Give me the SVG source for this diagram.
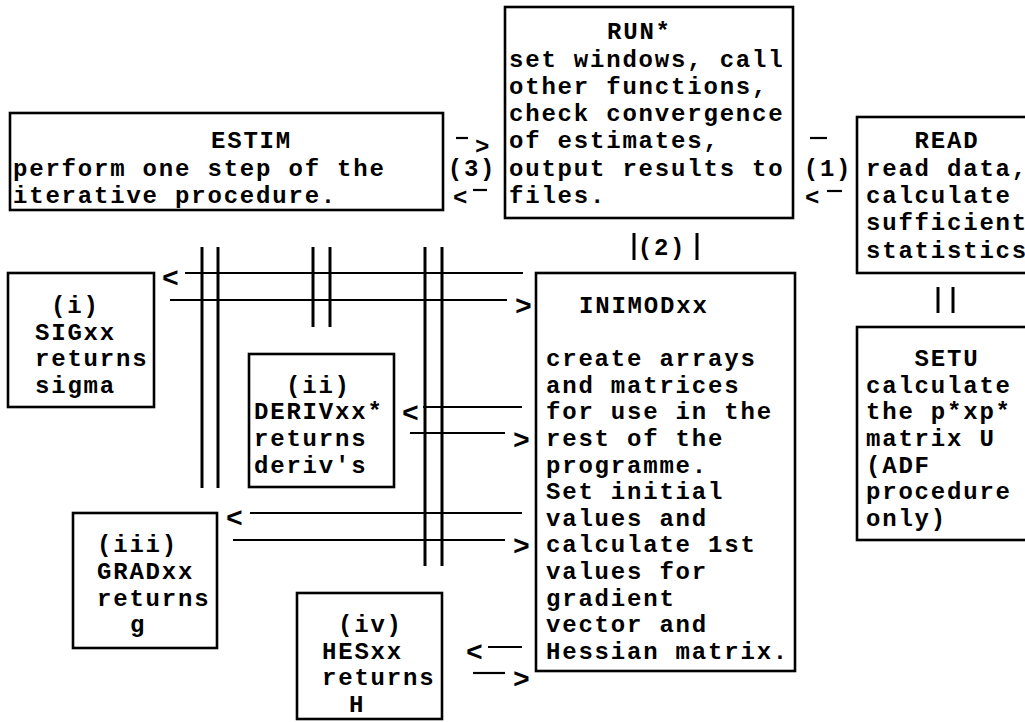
<svg xmlns="http://www.w3.org/2000/svg" width="1025" height="722" viewBox="0 0 1025 722">
<style>
.box{fill:none;stroke:#000;stroke-width:2.6}
.t{font-family:'Liberation Mono','Courier New',monospace;font-weight:bold;font-size:24px;letter-spacing:1.8px;fill:#000}
.a{font-family:'Liberation Mono','Courier New',monospace;font-weight:bold;font-size:28px;fill:#000;text-anchor:middle}
.ln{stroke:#000;stroke-width:2.2;fill:none}
.v{stroke:#000;stroke-width:3;fill:none}
.c{text-anchor:middle}
</style>
<rect width="1025" height="722" fill="#fff"/>
<g id="estim">
<rect class="box" x="10" y="113" width="433" height="97"/>
<text class="t" x="211" y="148.4">ESTIM</text>
<text class="t" x="13" y="175.7">perform one step of the</text>
<text class="t" x="13" y="203">iterative procedure.</text>
</g>
<g id="run">
<rect class="box" x="505" y="7" width="288" height="211"/>
<text class="t" x="607" y="39.2">RUN*</text>
<text class="t" x="509" y="66.5">set windows, call</text>
<text class="t" x="509" y="93.8">other functions,</text>
<text class="t" x="509" y="121.1">check convergence</text>
<text class="t" x="509" y="148.4">of estimates,</text>
<text class="t" x="509" y="175.7">output results to</text>
<text class="t" x="509" y="203">files.</text>
</g>
<g id="read">
<rect class="box" x="857" y="117" width="200" height="156"/>
<text class="t" x="914.6" y="148.4">READ</text>
<text class="t" x="866" y="175.7">read data,</text>
<text class="t" x="866" y="203">calculate</text>
<text class="t" x="866" y="230.3">sufficient</text>
<text class="t" x="866" y="257.6">statistics</text>
</g>
<g id="setu">
<rect class="box" x="857" y="327" width="200" height="213"/>
<text class="t" x="914.6" y="366.2">SETU</text>
<text class="t" x="866" y="392.8">calculate</text>
<text class="t" x="866" y="419.4">the p*xp*</text>
<text class="t" x="866" y="446">matrix U</text>
<text class="t" x="866" y="472.6">(ADF</text>
<text class="t" x="866" y="499.2">procedure</text>
<text class="t" x="866" y="525.8">only)</text>
</g>
<g id="inimod">
<rect class="box" x="536" y="273" width="259" height="398"/>
<text class="t" x="579" y="313">INIMODxx</text>
<text class="t" x="546" y="366.2">create arrays</text>
<text class="t" x="546" y="392.8">and matrices</text>
<text class="t" x="546" y="419.4">for use in the</text>
<text class="t" x="546" y="446">rest of the</text>
<text class="t" x="546" y="472.6">programme.</text>
<text class="t" x="546" y="499.2">Set initial</text>
<text class="t" x="546" y="525.8">values and</text>
<text class="t" x="546" y="552.4">calculate 1st</text>
<text class="t" x="546" y="579">values for</text>
<text class="t" x="546" y="605.6">gradient</text>
<text class="t" x="546" y="632.2">vector and</text>
<text class="t" x="546" y="658.8">Hessian matrix.</text>
</g>
<g id="sig">
<rect class="box" x="8" y="273" width="146" height="134"/>
<text class="t" x="51" y="313">(i)</text>
<text class="t" x="35" y="339.6">SIGxx</text>
<text class="t" x="35" y="366.2">returns</text>
<text class="t" x="35" y="392.8">sigma</text>
</g>
<g id="deriv">
<rect class="box" x="249" y="354" width="145" height="133"/>
<text class="t" x="286" y="392.8">(ii)</text>
<text class="t" x="254" y="419.4">DERIVxx*</text>
<text class="t" x="254" y="446">returns</text>
<text class="t" x="254" y="472.6">deriv's</text>
</g>
<g id="grad">
<rect class="box" x="73" y="513" width="144" height="135"/>
<text class="t" x="97" y="552.4">(iii)</text>
<text class="t" x="97" y="579">GRADxx</text>
<text class="t" x="97" y="605.6">returns</text>
<text class="t" x="130" y="632.2">g</text>
</g>
<g id="hes">
<rect class="box" x="297" y="593" width="145" height="126"/>
<text class="t" x="338" y="632.2">(iv)</text>
<text class="t" x="322" y="658.8">HESxx</text>
<text class="t" x="322" y="685.4">returns</text>
<text class="t" x="349" y="712">H</text>
</g>
<g id="connectors">
<line class="ln" x1="456" y1="138" x2="468" y2="138"/>
<text class="t c" x="483" y="154">&gt;</text>
<text class="t c" x="472" y="175.7">(3)</text>
<text class="t c" x="461" y="204.5">&lt;</text>
<line class="ln" x1="473" y1="190" x2="487" y2="190"/>
<line class="ln" x1="810" y1="138" x2="827" y2="138"/>
<text class="t c" x="828" y="175.7">(1)</text>
<text class="t c" x="813" y="205">&lt;</text>
<line class="ln" x1="827" y1="191" x2="842" y2="191"/>
<line class="v" x1="634" y1="233" x2="634" y2="260"/>
<text class="t c" x="662" y="255">(2)</text>
<line class="v" x1="697" y1="233" x2="697" y2="260"/>
<line class="v" x1="938" y1="287" x2="938" y2="313"/>
<line class="v" x1="953" y1="287" x2="953" y2="313"/>
<line class="v" x1="202" y1="247" x2="202" y2="488"/>
<line class="v" x1="218" y1="247" x2="218" y2="488"/>
<line class="v" x1="313" y1="247" x2="313" y2="327"/>
<line class="v" x1="330" y1="247" x2="330" y2="327"/>
<line class="v" x1="425" y1="247" x2="425" y2="566"/>
<line class="v" x1="442" y1="247" x2="442" y2="566"/>
<line class="ln" x1="185" y1="273" x2="523" y2="273"/>
<text class="a" x="170.5" y="287">&lt;</text>
<line class="ln" x1="170" y1="300" x2="507" y2="300"/>
<text class="a" x="523.5" y="315">&gt;</text>
<line class="ln" x1="423" y1="407" x2="522" y2="407"/>
<text class="a" x="410.5" y="422">&lt;</text>
<line class="ln" x1="410" y1="433" x2="505" y2="433"/>
<text class="a" x="521.5" y="449">&gt;</text>
<line class="ln" x1="250" y1="513" x2="522" y2="513"/>
<text class="a" x="234.5" y="527">&lt;</text>
<line class="ln" x1="233" y1="540" x2="505" y2="540"/>
<text class="a" x="521.5" y="555">&gt;</text>
<line class="ln" x1="488" y1="647" x2="522" y2="647"/>
<text class="a" x="474.5" y="661">&lt;</text>
<line class="ln" x1="473" y1="673" x2="505" y2="673"/>
<text class="a" x="521.5" y="688">&gt;</text>
</g>
</svg>
